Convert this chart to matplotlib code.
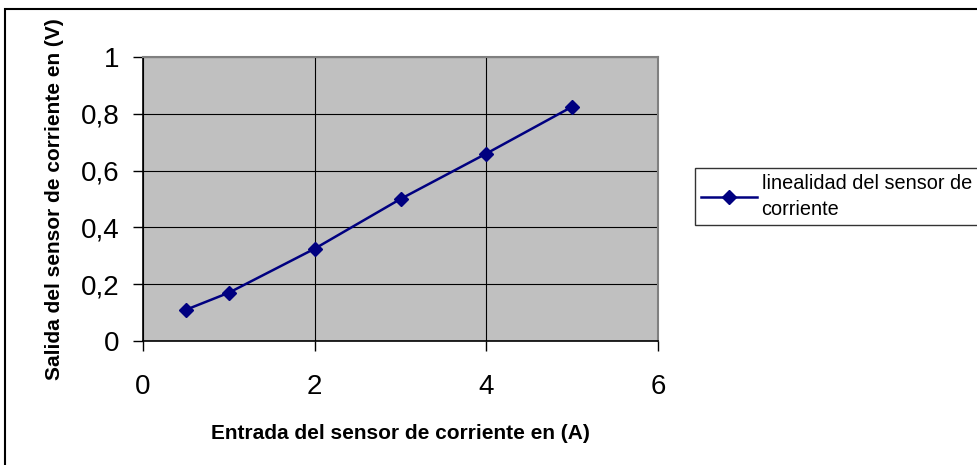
import matplotlib
matplotlib.use("Agg")
from matplotlib import pyplot as plt
from matplotlib.patches import Rectangle

# data
entrada = [0.5, 1, 2, 3, 4, 5]
salida = [0.11, 0.17, 0.325, 0.5, 0.66, 0.825]
xticks = [0, 2, 4, 6]
yticks = [0, 0.2, 0.4, 0.6, 0.8, 1]
ytick_labels = ["0", "0,2", "0,4", "0,6", "0,8", "1"]

plt.rcParams['font.family'] = ['Liberation Sans', 'DejaVu Sans']

fig = plt.figure(figsize=(9.77, 4.65), dpi=100)
ax = fig.add_axes([143/977, 1 - 341/465, (658 - 143)/977, (341 - 57)/465])
ax.set_facecolor('#c0c0c0')

ax.plot(entrada, salida, color='#000080', lw=1.8, marker='D', markersize=7,
        label='linealidad del sensor de\ncorriente')

ax.set_xlim(0, 6)
ax.set_ylim(0, 1)
ax.set_xticks(xticks)
ax.set_xticklabels([str(t) for t in xticks])
ax.set_yticks(yticks)
ax.set_yticklabels(ytick_labels)
ax.tick_params(labelsize=20, direction='out', length=7, width=1)
ax.tick_params(axis='x', pad=17)
ax.tick_params(axis='y', pad=10)
ax.grid(True, color='black', lw=0.8)
ax.set_axisbelow(True)

for s in ['top', 'right']:
    ax.spines[s].set_color('#808080')
    ax.spines[s].set_linewidth(1.5)
for s in ['left', 'bottom']:
    ax.spines[s].set_color('black')
    ax.spines[s].set_linewidth(1.2)

ax.set_xlabel('Entrada del sensor de corriente en (A)', fontsize=15,
              fontweight='bold', labelpad=17)
ax.set_ylabel('Salida del sensor de corriente en (V)', fontsize=15,
              fontweight='bold', labelpad=12)

# legend box on the right
leg = fig.legend(loc='upper left', bbox_to_anchor=(695/977, 1 - 168/465),
                 fontsize=14.3, frameon=True, fancybox=False, borderpad=0.3,
                 handlelength=2.8, handletextpad=0.25, labelspacing=0.2,
                 borderaxespad=0)
leg.get_frame().set_edgecolor('black')
leg.get_frame().set_linewidth(1.0)
for t in leg.get_texts():
    t.set_linespacing(1.45)

# outer chart border
fig.patches.append(Rectangle((5/977, -0.1), 1.2, 1 - 9/465 + 0.1,
                             transform=fig.transFigure, fill=False,
                             edgecolor='black', lw=1.5))

fig.savefig('out.png', dpi=100)
